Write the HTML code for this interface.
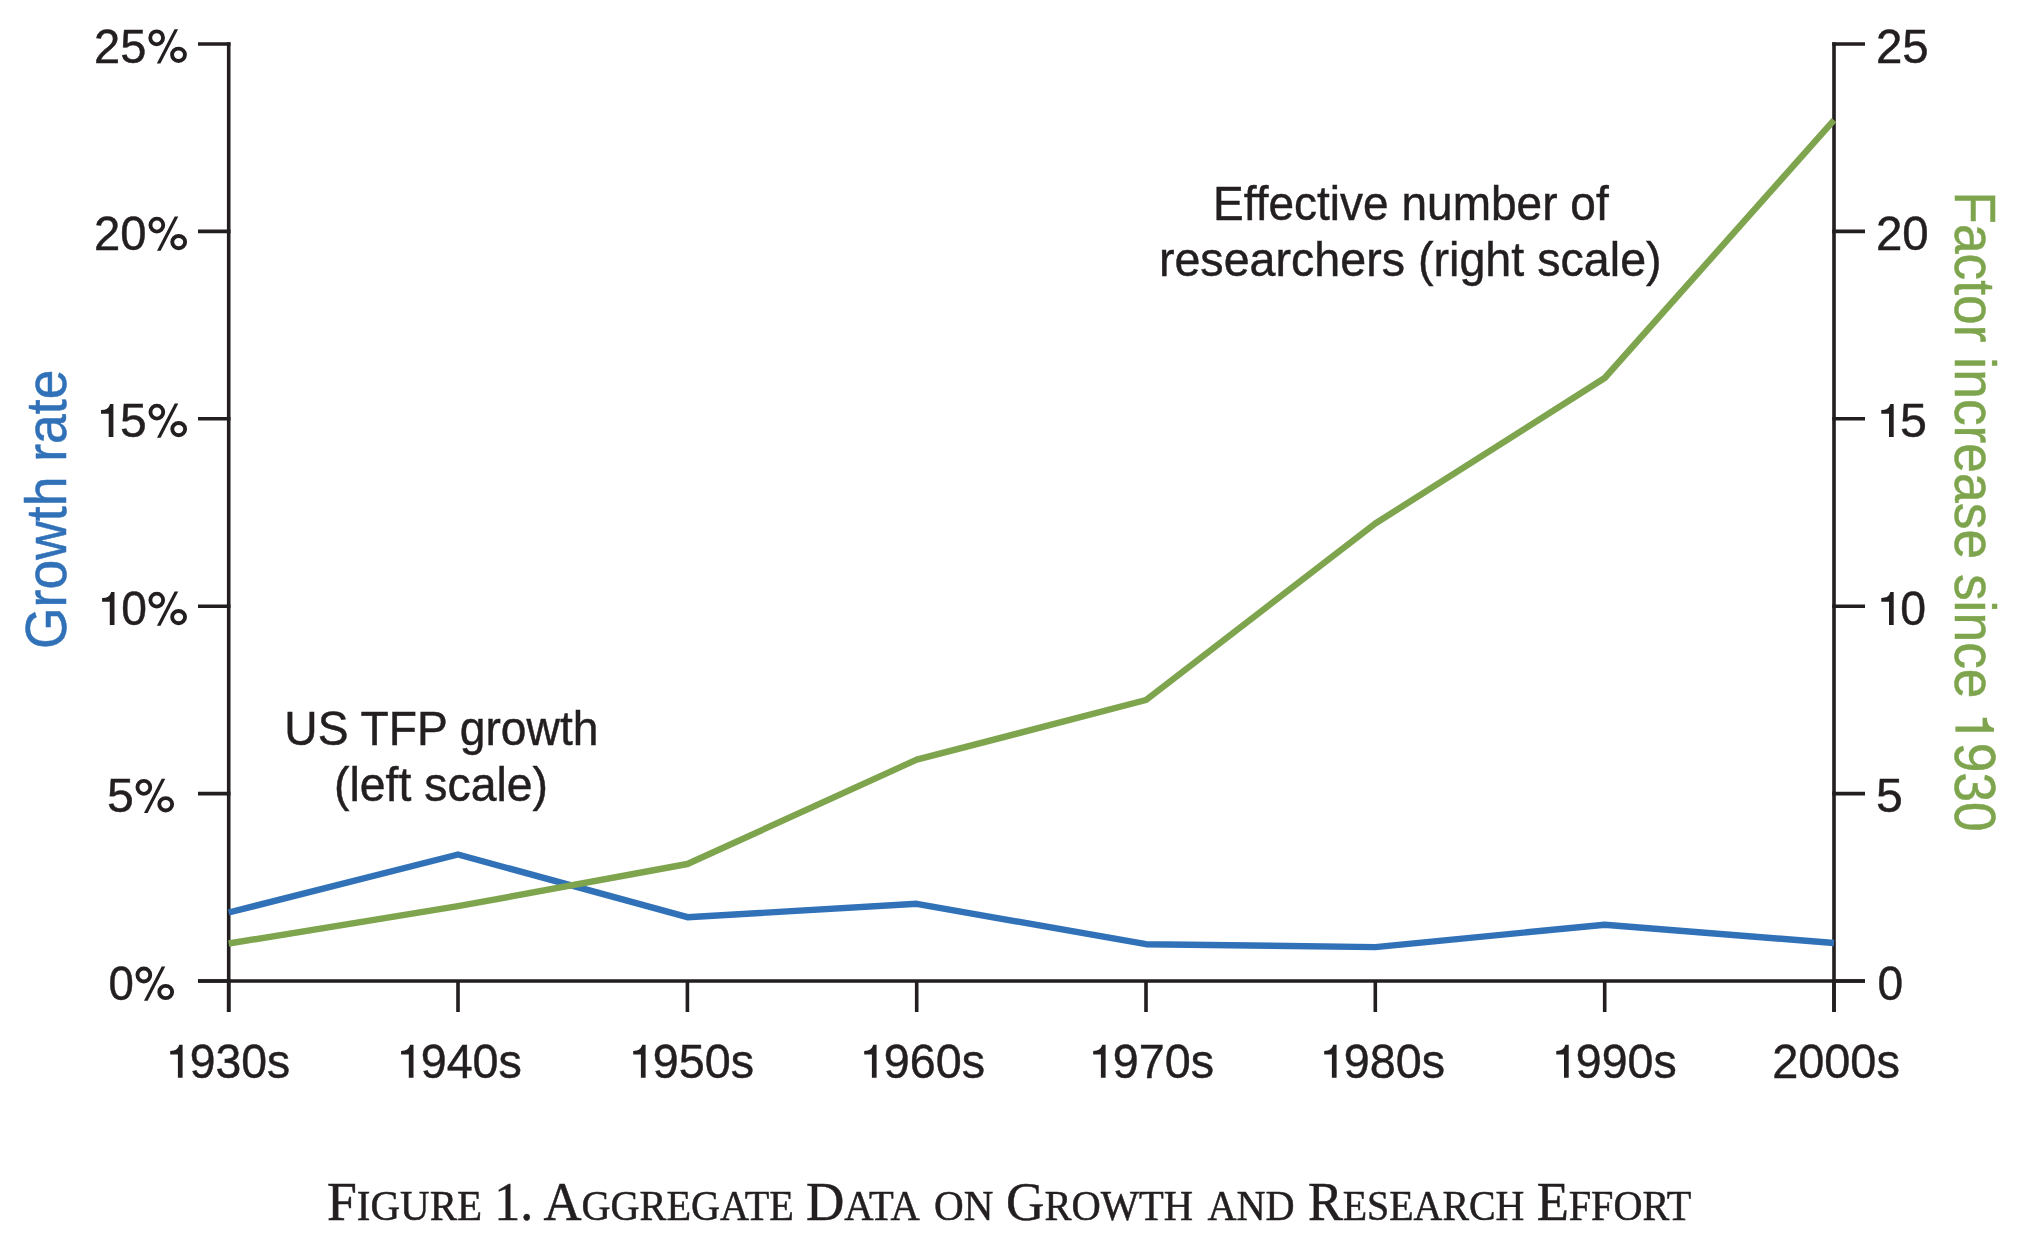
<!DOCTYPE html>
<html><head><meta charset="utf-8"><title>Figure 1. Aggregate Data on Growth and Research Effort</title>
<style>
html,body{margin:0;padding:0;background:#fff;}
body{width:2022px;height:1256px;overflow:hidden;}
svg{display:block;will-change:transform;}
</style></head><body>
<svg width="2022" height="1256" viewBox="0 0 2022 1256">
<rect width="2022" height="1256" fill="#fff"/>
<path d="M228.7 42.2V1012.1M1834.0 42.2V1012.1M198 981.0H1865" stroke="#231f20" stroke-width="3.6" fill="none"/>
<path d="M198 44.0H230.5M1832.2 44.0H1865M198 231.4H230.5M1832.2 231.4H1865M198 418.8H230.5M1832.2 418.8H1865M198 606.2H230.5M1832.2 606.2H1865M198 793.6H230.5M1832.2 793.6H1865M198 981.0H230.5M1832.2 981.0H1865M228.7 981.0V1012.1M458.0 981.0V1012.1M687.4 981.0V1012.1M916.7 981.0V1012.1M1146.0 981.0V1012.1M1375.3 981.0V1012.1M1604.7 981.0V1012.1M1834.0 981.0V1012.1" stroke="#231f20" stroke-width="3.6" fill="none"/>
<polyline points="228.7,912.5 458.0,854.5 687.4,917.2 916.7,903.8 1146.0,944.2 1375.3,947.1 1604.7,924.7 1834.0,943.0" fill="none" stroke="#3171b8" stroke-width="6.4" stroke-linejoin="round" stroke-linecap="butt"/>
<polyline points="228.7,943.5 458.0,906.2 687.4,864.0 916.7,759.7 1146.0,700.0 1375.3,523.5 1604.7,378.0 1834.0,120.2" fill="none" stroke="#7ea54e" stroke-width="6.4" stroke-linejoin="round" stroke-linecap="butt"/>
<text transform="matrix(0.9800,0,0,1,94.04,62.7)" font-family='"Liberation Sans",sans-serif' font-size="48" fill="#231f20" stroke="#231f20" stroke-width="0.45">25</text>
<text transform="matrix(0.9840,0,0,1,93.93,250.0)" font-family='"Liberation Sans",sans-serif' font-size="48" fill="#231f20" stroke="#231f20" stroke-width="0.45">20</text>
<text transform="matrix(1.0000,0,0,1,120.00,437.0)" font-family='"Liberation Sans",sans-serif' font-size="48" fill="#231f20" stroke="#231f20" stroke-width="0.45">5</text>
<text transform="matrix(0.9625,0,0,1,121.34,625.0)" font-family='"Liberation Sans",sans-serif' font-size="48" fill="#231f20" stroke="#231f20" stroke-width="0.45">0</text>
<text transform="matrix(1.0043,0,0,1,107.09,812.2)" font-family='"Liberation Sans",sans-serif' font-size="48" fill="#231f20" stroke="#231f20" stroke-width="0.45">5</text>
<text transform="matrix(0.9500,0,0,1,108.45,999.9)" font-family='"Liberation Sans",sans-serif' font-size="48" fill="#231f20" stroke="#231f20" stroke-width="0.45">0</text>
<text transform="matrix(0.9880,0,0,1,1875.92,62.7)" font-family='"Liberation Sans",sans-serif' font-size="48" fill="#231f20" stroke="#231f20" stroke-width="0.45">25</text>
<text transform="matrix(0.9880,0,0,1,1875.92,249.8)" font-family='"Liberation Sans",sans-serif' font-size="48" fill="#231f20" stroke="#231f20" stroke-width="0.45">20</text>
<text transform="matrix(1.0087,0,0,1,1899.98,437.0)" font-family='"Liberation Sans",sans-serif' font-size="48" fill="#231f20" stroke="#231f20" stroke-width="0.45">5</text>
<text transform="matrix(0.9667,0,0,1,1900.33,624.9)" font-family='"Liberation Sans",sans-serif' font-size="48" fill="#231f20" stroke="#231f20" stroke-width="0.45">0</text>
<text transform="matrix(1.0043,0,0,1,1876.09,812.3)" font-family='"Liberation Sans",sans-serif' font-size="48" fill="#231f20" stroke="#231f20" stroke-width="0.45">5</text>
<text transform="matrix(0.9625,0,0,1,1877.44,1000.1)" font-family='"Liberation Sans",sans-serif' font-size="48" fill="#231f20" stroke="#231f20" stroke-width="0.45">0</text>
<text transform="matrix(0.9653,0,0,1,189.77,1077.8)" font-family='"Liberation Sans",sans-serif' font-size="48" fill="#231f20" stroke="#231f20" stroke-width="0.45">930s</text>
<text transform="matrix(0.9733,0,0,1,420.65,1077.8)" font-family='"Liberation Sans",sans-serif' font-size="48" fill="#231f20" stroke="#231f20" stroke-width="0.45">940s</text>
<text transform="matrix(0.9733,0,0,1,652.75,1077.8)" font-family='"Liberation Sans",sans-serif' font-size="48" fill="#231f20" stroke="#231f20" stroke-width="0.45">950s</text>
<text transform="matrix(0.9733,0,0,1,883.75,1077.8)" font-family='"Liberation Sans",sans-serif' font-size="48" fill="#231f20" stroke="#231f20" stroke-width="0.45">960s</text>
<text transform="matrix(0.9733,0,0,1,1112.75,1077.8)" font-family='"Liberation Sans",sans-serif' font-size="48" fill="#231f20" stroke="#231f20" stroke-width="0.45">970s</text>
<text transform="matrix(0.9733,0,0,1,1343.75,1077.8)" font-family='"Liberation Sans",sans-serif' font-size="48" fill="#231f20" stroke="#231f20" stroke-width="0.45">980s</text>
<text transform="matrix(0.9693,0,0,1,1575.86,1077.8)" font-family='"Liberation Sans",sans-serif' font-size="48" fill="#231f20" stroke="#231f20" stroke-width="0.45">990s</text>
<text transform="matrix(0.9766,0,0,1,1772.15,1077.8)" font-family='"Liberation Sans",sans-serif' font-size="48" fill="#231f20" stroke="#231f20" stroke-width="0.45">2000s</text>
<text transform="matrix(0.9590,0,0,1,1213.02,219.8)" font-family='"Liberation Sans",sans-serif' font-size="48" fill="#231f20" stroke="#231f20" stroke-width="0.45">Effective number of</text>
<text transform="matrix(0.9717,0,0,1,1158.88,275.6)" font-family='"Liberation Sans",sans-serif' font-size="48" fill="#231f20" stroke="#231f20" stroke-width="0.45">researchers (right scale)</text>
<text transform="matrix(0.9626,0,0,1,284.31,745.2)" font-family='"Liberation Sans",sans-serif' font-size="48" fill="#231f20" stroke="#231f20" stroke-width="0.45">US TFP growth</text>
<text transform="matrix(0.9668,0,0,1,334.07,800.9)" font-family='"Liberation Sans",sans-serif' font-size="48" fill="#231f20" stroke="#231f20" stroke-width="0.45">(left scale)</text>
<text transform="matrix(0,-0.9305,1,0,66.3,648.99)" font-family='"Liberation Sans",sans-serif' font-size="57.5" fill="#3171b8" stroke="#3171b8" stroke-width="0.5">Growth rate</text>
<text transform="matrix(0,0.9283,-1,0,1955.4,191.29)" font-family='"Liberation Sans",sans-serif' font-size="57.5" fill="#7ea54e" stroke="#7ea54e" stroke-width="0.5">Factor increase since</text>
<text transform="matrix(0,0.9272,-1,0,1955.4,742.75)" font-family='"Liberation Sans",sans-serif' font-size="57.5" fill="#7ea54e" stroke="#7ea54e" stroke-width="0.5">930</text>
<text transform="matrix(0.9756,0,0,1,327.02,1220.0)" font-family='"Liberation Serif",serif' font-size="55" fill="#231f20" stroke="#231f20" stroke-width="0.5"><tspan font-size="55">F</tspan><tspan font-size="42">IGURE</tspan></text>
<text transform="matrix(0.9455,0,0,1,494.17,1220.0)" font-family='"Liberation Serif",serif' font-size="55" fill="#231f20" stroke="#231f20" stroke-width="0.5"><tspan font-size="55">1.</tspan></text>
<text transform="matrix(0.9585,0,0,1,543.40,1220.0)" font-family='"Liberation Serif",serif' font-size="55" fill="#231f20" stroke="#231f20" stroke-width="0.5"><tspan font-size="55">A</tspan><tspan font-size="42">GGREGATE</tspan></text>
<text transform="matrix(0.9658,0,0,1,805.93,1220.0)" font-family='"Liberation Serif",serif' font-size="55" fill="#231f20" stroke="#231f20" stroke-width="0.5"><tspan font-size="55">D</tspan><tspan font-size="42">ATA</tspan></text>
<text transform="matrix(0.9797,0,0,1,934.12,1220.0)" font-family='"Liberation Serif",serif' font-size="55" fill="#231f20" stroke="#231f20" stroke-width="0.5"><tspan font-size="42">ON</tspan></text>
<text transform="matrix(0.9649,0,0,1,1006.07,1220.0)" font-family='"Liberation Serif",serif' font-size="55" fill="#231f20" stroke="#231f20" stroke-width="0.5"><tspan font-size="55">G</tspan><tspan font-size="42">ROWTH</tspan></text>
<text transform="matrix(0.9589,0,0,1,1207.40,1220.0)" font-family='"Liberation Serif",serif' font-size="55" fill="#231f20" stroke="#231f20" stroke-width="0.5"><tspan font-size="42">AND</tspan></text>
<text transform="matrix(0.9491,0,0,1,1307.95,1220.0)" font-family='"Liberation Serif",serif' font-size="55" fill="#231f20" stroke="#231f20" stroke-width="0.5"><tspan font-size="55">R</tspan><tspan font-size="42">ESEARCH</tspan></text>
<text transform="matrix(0.9565,0,0,1,1536.64,1220.0)" font-family='"Liberation Serif",serif' font-size="55" fill="#231f20" stroke="#231f20" stroke-width="0.5"><tspan font-size="55">E</tspan><tspan font-size="42">FFORT</tspan></text>
<g transform="translate(148.3,62.7)"><ellipse cx="8.35" cy="-24.9" rx="6.4" ry="6.5" fill="none" stroke="#231f20" stroke-width="3.85"/><ellipse cx="30.2" cy="-7.9" rx="6.45" ry="6.15" fill="none" stroke="#231f20" stroke-width="3.85"/><path d="M8.5 0.8H12.1L29.8 -33.4H26.2Z" fill="#231f20"/></g>
<g transform="translate(148.5,250.0)"><ellipse cx="8.35" cy="-24.9" rx="6.4" ry="6.5" fill="none" stroke="#231f20" stroke-width="3.85"/><ellipse cx="30.2" cy="-7.9" rx="6.45" ry="6.15" fill="none" stroke="#231f20" stroke-width="3.85"/><path d="M8.5 0.8H12.1L29.8 -33.4H26.2Z" fill="#231f20"/></g>
<g transform="translate(148.5,437.0)"><ellipse cx="8.35" cy="-24.9" rx="6.4" ry="6.5" fill="none" stroke="#231f20" stroke-width="3.85"/><ellipse cx="30.2" cy="-7.9" rx="6.45" ry="6.15" fill="none" stroke="#231f20" stroke-width="3.85"/><path d="M8.5 0.8H12.1L29.8 -33.4H26.2Z" fill="#231f20"/></g>
<g transform="translate(148.4,625.0)"><ellipse cx="8.35" cy="-24.9" rx="6.4" ry="6.5" fill="none" stroke="#231f20" stroke-width="3.85"/><ellipse cx="30.2" cy="-7.9" rx="6.45" ry="6.15" fill="none" stroke="#231f20" stroke-width="3.85"/><path d="M8.5 0.8H12.1L29.8 -33.4H26.2Z" fill="#231f20"/></g>
<g transform="translate(135.5,812.2)"><ellipse cx="8.35" cy="-24.9" rx="6.4" ry="6.5" fill="none" stroke="#231f20" stroke-width="3.85"/><ellipse cx="30.2" cy="-7.9" rx="6.45" ry="6.15" fill="none" stroke="#231f20" stroke-width="3.85"/><path d="M8.5 0.8H12.1L29.8 -33.4H26.2Z" fill="#231f20"/></g>
<g transform="translate(135.5,999.9)"><ellipse cx="8.35" cy="-24.9" rx="6.4" ry="6.5" fill="none" stroke="#231f20" stroke-width="3.85"/><ellipse cx="30.2" cy="-7.9" rx="6.45" ry="6.15" fill="none" stroke="#231f20" stroke-width="3.85"/><path d="M8.5 0.8H12.1L29.8 -33.4H26.2Z" fill="#231f20"/></g>
<path transform="matrix(1.0,0,0,1.0,101.0,437.0)" d="M12.4 0V-33H9.05C8.3 -30.2 6.6 -27.8 3.5 -27.3L0 -26.9V-23.25H7.7V0Z" fill="#231f20"/>
<path transform="matrix(1.0,0,0,1.0,102.1,625.0)" d="M12.4 0V-33H9.05C8.3 -30.2 6.6 -27.8 3.5 -27.3L0 -26.9V-23.25H7.7V0Z" fill="#231f20"/>
<path transform="matrix(1.0,0,0,1.0,1881.3,437.0)" d="M12.4 0V-33H9.05C8.3 -30.2 6.6 -27.8 3.5 -27.3L0 -26.9V-23.25H7.7V0Z" fill="#231f20"/>
<path transform="matrix(1.0,0,0,1.0,1881.3,624.9)" d="M12.4 0V-33H9.05C8.3 -30.2 6.6 -27.8 3.5 -27.3L0 -26.9V-23.25H7.7V0Z" fill="#231f20"/>
<path transform="matrix(1.0,0,0,1.0,170.2,1077.8)" d="M12.4 0V-33H9.05C8.3 -30.2 6.6 -27.8 3.5 -27.3L0 -26.9V-23.25H7.7V0Z" fill="#231f20"/>
<path transform="matrix(1.0,0,0,1.0,401.1,1077.8)" d="M12.4 0V-33H9.05C8.3 -30.2 6.6 -27.8 3.5 -27.3L0 -26.9V-23.25H7.7V0Z" fill="#231f20"/>
<path transform="matrix(1.0,0,0,1.0,633.2,1077.8)" d="M12.4 0V-33H9.05C8.3 -30.2 6.6 -27.8 3.5 -27.3L0 -26.9V-23.25H7.7V0Z" fill="#231f20"/>
<path transform="matrix(1.0,0,0,1.0,864.2,1077.8)" d="M12.4 0V-33H9.05C8.3 -30.2 6.6 -27.8 3.5 -27.3L0 -26.9V-23.25H7.7V0Z" fill="#231f20"/>
<path transform="matrix(1.0,0,0,1.0,1093.2,1077.8)" d="M12.4 0V-33H9.05C8.3 -30.2 6.6 -27.8 3.5 -27.3L0 -26.9V-23.25H7.7V0Z" fill="#231f20"/>
<path transform="matrix(1.0,0,0,1.0,1324.2,1077.8)" d="M12.4 0V-33H9.05C8.3 -30.2 6.6 -27.8 3.5 -27.3L0 -26.9V-23.25H7.7V0Z" fill="#231f20"/>
<path transform="matrix(1.0,0,0,1.0,1556.3,1077.8)" d="M12.4 0V-33H9.05C8.3 -30.2 6.6 -27.8 3.5 -27.3L0 -26.9V-23.25H7.7V0Z" fill="#231f20"/>
<path transform="matrix(0,1.13,-1.17,0,1955.4,717.8)" d="M12.4 0V-33H9.05C8.3 -30.2 6.6 -27.8 3.5 -27.3L0 -26.9V-23.25H7.7V0Z" fill="#7ea54e"/>
</svg>
</body></html>
